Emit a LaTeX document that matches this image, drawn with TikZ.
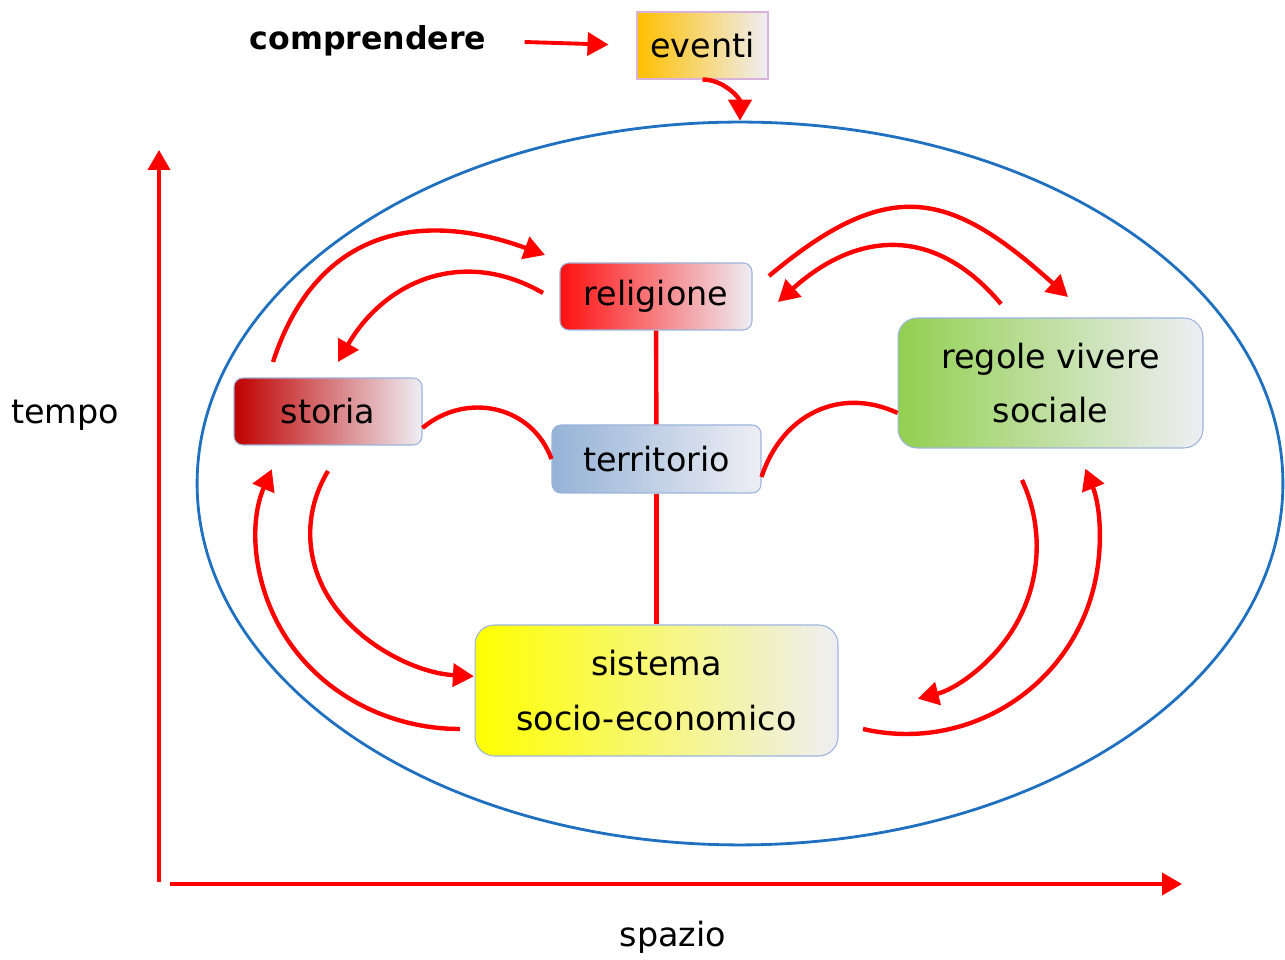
\documentclass[tikz,border=0pt]{standalone}
\usepackage{fontspec}
\setmainfont{DejaVu Sans}
\usetikzlibrary{arrows.meta,shapes.geometric}
\definecolor{boxline}{HTML}{9CB4DC}
\definecolor{ellblue}{HTML}{2070C0}
\definecolor{evOrange}{HTML}{FFC000}
\definecolor{relRed}{HTML}{FF1010}
\definecolor{stoRed}{HTML}{C00000}
\definecolor{terBlue}{HTML}{95B3D7}
\definecolor{regGreen}{HTML}{92D050}
\definecolor{pale}{HTML}{EEEEF4}

\begin{document}
\begin{tikzpicture}[x=0.02cm,y=0.02cm]
\tikzset{box/.style={draw=boxline, line width=0.6pt, rounded corners=5pt, inner sep=0pt, align=center, font=\fontsize{19}{31}\selectfont, right color=pale},
  bigbox/.style={box, rounded corners=11pt},
  link/.style={red, line width=2.5pt},
  arr/.style={link, -{Triangle[length=0.42cm,width=0.46cm]}},
  axe/.style={red, line width=2.2pt, -{Triangle[length=0.4cm,width=0.44cm]}},
  lbl/.style={font=\fontsize{19}{23}\selectfont}}
\useasboundingbox (0,0) rectangle (1285,960);
\node[ellipse, draw=ellblue, line width=1.6pt, minimum width=21.72cm, minimum height=14.46cm] (mondo) at (740,476.5) {};
\node[font=\fontsize{18}{22}\selectfont\bfseries] (compr) at (368,919) {comprendere};
\node[box, rounded corners=0pt, draw=violet!30, left color=evOrange, minimum width=2.62cm, minimum height=1.34cm] (eventi) at (702.5,914.5) {eventi};
\node[box, left color=relRed, minimum width=3.84cm, minimum height=1.34cm] (rel) at (656,663.5) {religione};
\node[box, left color=stoRed, minimum width=3.76cm, minimum height=1.34cm] (storia) at (328,548.5) {storia};
\node[box, left color=terBlue, minimum width=4.18cm, minimum height=1.36cm] (terr) at (656.5,501) {territorio};
\node[bigbox, left color=regGreen, minimum width=6.1cm, minimum height=2.6cm] (regole) at (1050.5,577) {regole vivere\\sociale};
\node[bigbox, left color=yellow, minimum width=7.26cm, minimum height=2.62cm] (sis) at (656.5,269.5) {sistema\\socio-economico};
\node[lbl] (tempo) at (65,545) {tempo};
\node[lbl] (spazio) at (673,23) {spazio};
\coordinate (orig) at (159,78);
\coordinate (ytop) at (159,810);
\coordinate (xo) at (170,76);
\coordinate (xend) at (1182,76);
\draw[axe] (orig) -- (ytop);
\draw[axe] (xo) -- (xend);
\draw[arr, line width=2.2pt, shorten <=0.64cm, shorten >=0.56cm] (compr.east) -- (eventi.west);
\draw[arr] (eventi.south) to[out=0, in=90] (mondo.north);
\draw[link] (rel) -- (terr);
\draw[link] (terr) -- (sis);
\draw[link] ([yshift=-0.33cm]storia.east) to[out=40, in=110, looseness=1.1] (terr.west);
\draw[link] ([yshift=-0.36cm]terr.east) to[out=72, in=155, looseness=1.1] ([yshift=-0.6cm]regole.west);
\coordinate (a1) at (273,598); \coordinate (b1) at (545,705);
\coordinate (a2) at (543,667); \coordinate (b2) at (338,598);
\coordinate (a3) at (769,684); \coordinate (b3) at (1068,663);
\coordinate (a4) at (1001,656); \coordinate (b4) at (778,658);
\coordinate (a5) at (328,489);
\coordinate (a6) at (460,231);
\coordinate (a7) at (1022,480);
\coordinate (a8) at (863,231);
\draw[arr] (a1) to[out=72, in=160, looseness=1.2] (b1);
\draw[arr] (a2) to[out=150, in=60, looseness=1.1] (b2);
\draw[arr] (a3) to[out=40, in=138, looseness=1.35] (b3);
\draw[arr] (a4) to[out=130, in=42, looseness=1.2] (b4);
\draw[arr] (a5) arc[start angle=154, end angle=266, x radius=176, y radius=143];
\draw[arr] (a6) arc[start angle=270, end angle=158, x radius=203, y radius=189];
\draw[arr] (a7) arc[start angle=25, end angle=-76, radius=157];
\draw[arr] (a8) arc[start angle=257, end angle=382, radius=193];
\end{tikzpicture}
\end{document}
